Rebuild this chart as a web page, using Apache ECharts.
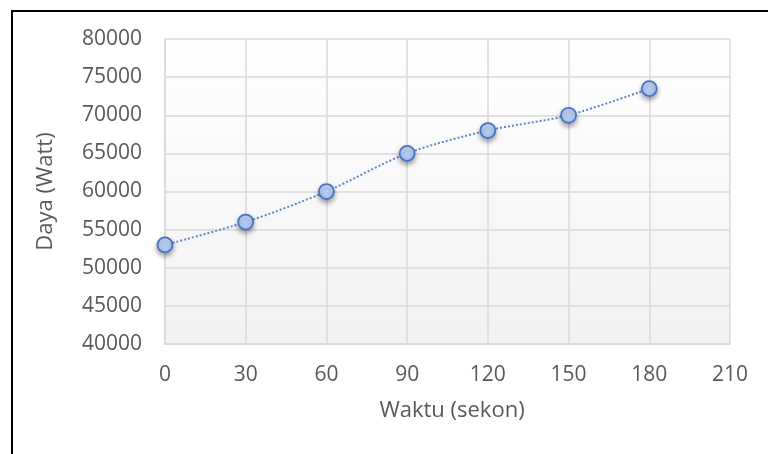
<!DOCTYPE html>
<html>
<head>
<meta charset="utf-8">
<script src="https://cdn.jsdelivr.net/npm/echarts@6/dist/echarts.min.js"></script>
<style>html,body{margin:0;padding:0;background:#fff}#c{width:768px;height:454px}</style>
</head>
<body>
<div id="c"></div>
<script>
var waktu = [0, 30, 60, 90, 120, 150, 180];
var daya = [53000, 56000, 60000, 65000, 68000, 70000, 73500];
var xTitle = 'Waktu (sekon)';
var yTitle = 'Daya (Watt)';
var points = waktu.map(function (t, i) { return [t, daya[i]]; });

var chart = echarts.init(document.getElementById('c'));
var txt = '#595959';
var font = 'Open Sans';
var plain = function (v) { return String(v); };
chart.setOption({
  animation: false,
  backgroundColor: '#fff',
  graphic: [{
    type: 'rect', z: 100,
    shape: { x: 12, y: 11, width: 800, height: 500 },
    style: { fill: 'none', stroke: '#000', lineWidth: 2 }
  }],
  grid: {
    left: 165, top: 39, right: 38, bottom: 110,
    show: true, borderWidth: 0,
    backgroundColor: new echarts.graphic.LinearGradient(0, 0, 0, 1, [
      { offset: 0, color: '#ffffff' }, { offset: 1, color: '#f2f2f2' }
    ])
  },
  xAxis: {
    type: 'value', min: 0, max: 210, interval: 30,
    name: xTitle, nameLocation: 'middle', nameGap: 56,
    nameTextStyle: { color: txt, fontFamily: font, fontSize: 22, padding: [0, 0, 0, 9] },
    axisLine: { show: true, lineStyle: { color: '#d9d9d9', width: 1.5 } },
    axisTick: { show: false },
    axisLabel: { color: txt, fontFamily: font, fontSize: 21, margin: 21, formatter: plain },
    splitLine: { show: true, lineStyle: { color: '#d9d9d9', width: 1.5 } }
  },
  yAxis: {
    type: 'value', min: 40000, max: 80000, interval: 5000,
    name: yTitle, nameLocation: 'middle', nameGap: 108,
    nameTextStyle: { color: txt, fontFamily: font, fontSize: 22 },
    axisLine: { show: true, lineStyle: { color: '#d9d9d9', width: 1.5 } },
    axisTick: { show: false },
    axisLabel: { color: txt, fontFamily: font, fontSize: 21, margin: 23, formatter: plain },
    splitLine: { show: true, lineStyle: { color: '#d9d9d9', width: 1.5 } }
  },
  series: [{
    type: 'line',
    data: points,
    smooth: 0.3,
    symbol: 'circle',
    symbolSize: 15,
    lineStyle: { color: '#5b87c9', width: 2, type: [2, 2] },
    itemStyle: {
      color: new echarts.graphic.LinearGradient(0, 0, 0, 1, [
        { offset: 0, color: '#cfe0fb' }, { offset: 1, color: '#a6c2f2' }
      ]),
      borderColor: '#4472c4', borderWidth: 1.75,
      shadowColor: 'rgba(0,0,0,0.35)', shadowBlur: 5, shadowOffsetY: 3
    }
  }]
});
</script>
</body>
</html>
